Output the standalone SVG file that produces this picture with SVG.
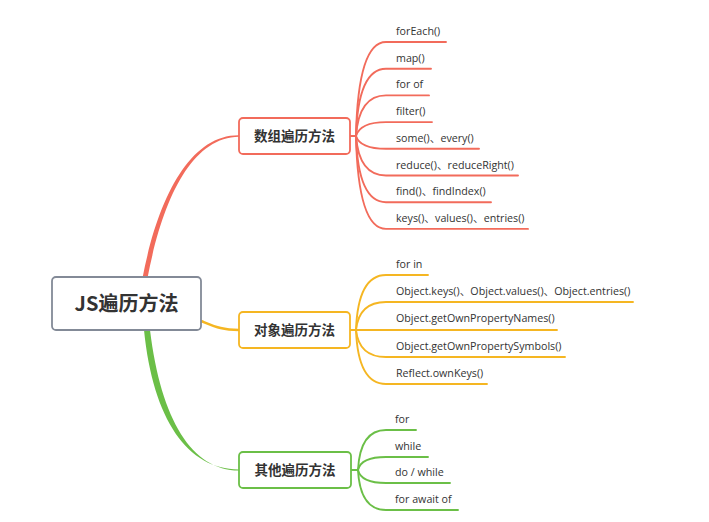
<svg xmlns="http://www.w3.org/2000/svg" width="709" height="522" viewBox="0 0 709 522">
<style>
.leaf{font-family:"Open Sans","Noto Sans CJK SC",sans-serif;font-size:10.7px;fill:#333}
.br{font-family:"Noto Sans CJK SC",sans-serif;font-size:13.5px;font-weight:bold;fill:#333;text-anchor:middle}
.root{font-family:"Noto Sans CJK SC",sans-serif;font-size:20px;font-weight:bold;fill:#333;text-anchor:middle}
.r{stroke:#F26B5B}.y{stroke:#F5B622}.g{stroke:#6BBF47}
.ln{fill:none;stroke-width:1.9;stroke-linecap:round}
.box{fill:#fff;stroke-width:1.8}
</style>
<rect width="709" height="522" fill="#fff"/>
<g id="connectors">
<path d="M142.5,278 C157.5,200 189,134.8 239,135.3 L239,136.7 C191,137.3 162.5,200 147.5,278 Z" fill="#F26B5B"/>
<path d="M144,330 C153,420 188,469.6 239,469.4 L239,470.6 C192,470.4 161,420 150,330 Z" fill="#6BBF47"/>
<path d="M201,321 C216,327 222,330 239,330" fill="none" stroke="#F5B622" stroke-width="2.6"/>
<g class="ln r">
<path d="M350,136 H356 Q358,42 386,42 H446"/>
<path d="M356,136 Q358,68.7 386,68.7 H431"/>
<path d="M356,136 Q359,95.4 386,95.4 H429"/>
<path d="M356,136 Q360,122.1 386,122.1 H432"/>
<path d="M356,136 Q360,148.8 386,148.8 H479"/>
<path d="M356,136 Q359,175.5 386,175.5 H518"/>
<path d="M356,136 Q358,202.2 386,202.2 H491"/>
<path d="M356,136 Q358,228.9 386,228.9 H528"/>
</g>
<g class="ln y">
<path d="M350,330 H356 Q358,275 386,275 H428"/>
<path d="M356,330 Q359,302 386,302 H633"/>
<path d="M356,330 H557"/>
<path d="M356,330 Q359,357 386,357 H565"/>
<path d="M356,330 Q358,384 386,384 H487"/>
</g>
<g class="ln g">
<path d="M351,470 H358 Q360,430 386,430 H416"/>
<path d="M358,470 Q361,457 386,457 H428"/>
<path d="M358,470 Q361,483 386,483 H450"/>
<path d="M358,470 Q360,510 386,510 H458"/>
</g>
</g>
<g id="root">
<rect x="52" y="277" width="149" height="53" rx="4" class="box" stroke="#838A97"/>
<text x="126.5" y="310.5" class="root">JS遍历方法</text>
</g>
<g id="branch-array">
<rect x="239" y="118" width="111" height="36" rx="4" class="box r"/>
<text x="294.5" y="141" class="br">数组遍历方法</text>
</g>
<g id="branch-object">
<rect x="239" y="312" width="111" height="36" rx="4" class="box y"/>
<text x="294.5" y="335" class="br">对象遍历方法</text>
</g>
<g id="branch-other">
<rect x="239" y="452" width="112" height="36" rx="4" class="box g"/>
<text x="295" y="475" class="br">其他遍历方法</text>
</g>
<g id="leaves-array">
<text x="396" y="35" class="leaf">forEach()</text>
<text x="396" y="61.7" class="leaf">map()</text>
<text x="396" y="88.4" class="leaf">for of</text>
<text x="396" y="115.1" class="leaf">filter()</text>
<text x="396" y="141.8" class="leaf">some()、every()</text>
<text x="396" y="168.5" class="leaf">reduce()、reduceRight()</text>
<text x="396" y="195.2" class="leaf">find()、findIndex()</text>
<text x="396" y="221.9" class="leaf">keys()、values()、entries()</text>
</g>
<g id="leaves-object">
<text x="396" y="268" class="leaf">for in</text>
<text x="396" y="295" class="leaf">Object.keys()、Object.values()、Object.entries()</text>
<text x="396" y="322" class="leaf">Object.getOwnPropertyNames()</text>
<text x="396" y="350" class="leaf">Object.getOwnPropertySymbols()</text>
<text x="396" y="377" class="leaf">Reflect.ownKeys()</text>
</g>
<g id="leaves-other">
<text x="395" y="423" class="leaf">for</text>
<text x="395" y="450" class="leaf">while</text>
<text x="395" y="476" class="leaf">do / while</text>
<text x="395" y="503" class="leaf">for await of</text>
</g>
</svg>
